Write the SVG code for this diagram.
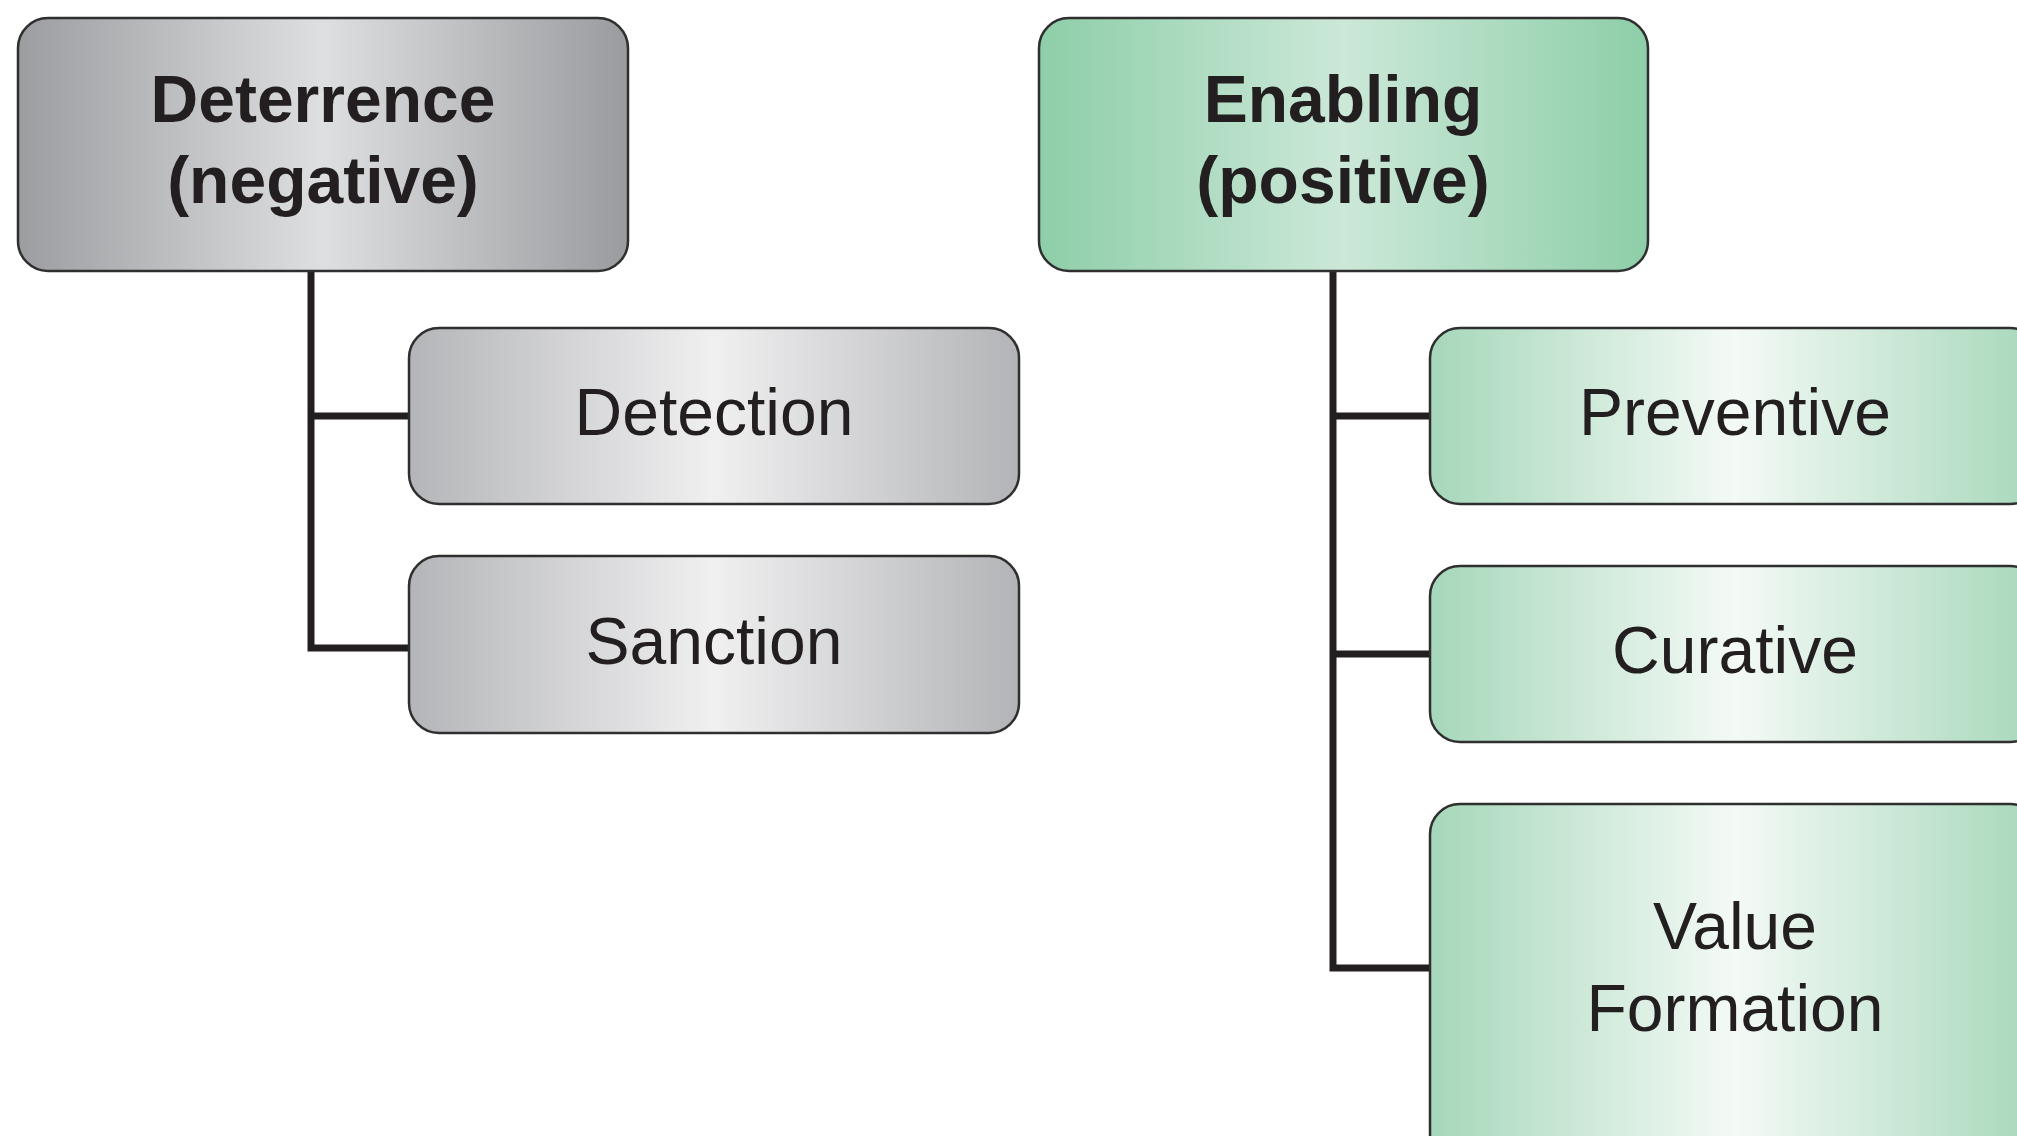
<svg xmlns="http://www.w3.org/2000/svg" width="2017" height="1136" viewBox="0 0 2017 1136">
<defs>
<linearGradient id="grayP" x1="0" y1="0" x2="1" y2="0">
<stop offset="0" stop-color="#9c9da0"/>
<stop offset="0.5" stop-color="#dedfe1"/>
<stop offset="1" stop-color="#9a9b9e"/>
</linearGradient>
<linearGradient id="grayC" x1="0" y1="0" x2="1" y2="0">
<stop offset="0" stop-color="#b4b5b8"/>
<stop offset="0.5" stop-color="#f0f0f1"/>
<stop offset="1" stop-color="#b3b4b7"/>
</linearGradient>
<linearGradient id="greenP" x1="0" y1="0" x2="1" y2="0">
<stop offset="0" stop-color="#8dcea8"/>
<stop offset="0.5" stop-color="#cce8d8"/>
<stop offset="1" stop-color="#8dcea8"/>
</linearGradient>
<linearGradient id="greenC" x1="0" y1="0" x2="1" y2="0">
<stop offset="0" stop-color="#a6d7ba"/>
<stop offset="0.5" stop-color="#f4faf6"/>
<stop offset="1" stop-color="#a6d7ba"/>
</linearGradient>
</defs>
<style>
.box{stroke:#2f2f2f;stroke-width:2.5}
.t{font-family:"Liberation Sans",Arial,sans-serif;font-size:66px;fill:#231f20;text-anchor:middle}
.b{font-weight:bold}
.conn{fill:none;stroke:#231f20;stroke-width:7;stroke-linejoin:miter;stroke-linecap:butt}
</style>
<rect width="2017" height="1136" fill="#ffffff"/>
<g id="connectors">
<path class="conn" d="M311,271 V648 H409 M311,416 H409"/>
<path class="conn" d="M1333,271 V968 H1430 M1333,416 H1430 M1333,654 H1430"/>
</g>
<g id="deterrence">
<rect class="box" x="18" y="18" width="610" height="253" rx="30" fill="url(#grayP)"/>
<text class="t b" x="323" y="122">Deterrence</text>
<text class="t b" x="323" y="203">(negative)</text>
</g>
<g id="detection">
<rect class="box" x="409" y="328" width="610" height="176" rx="30" fill="url(#grayC)"/>
<text class="t" x="714" y="435">Detection</text>
</g>
<g id="sanction">
<rect class="box" x="409" y="556" width="610" height="177" rx="30" fill="url(#grayC)"/>
<text class="t" x="714" y="664">Sanction</text>
</g>
<g id="enabling">
<rect class="box" x="1039" y="18" width="609" height="253" rx="30" fill="url(#greenP)"/>
<text class="t b" x="1343" y="122">Enabling</text>
<text class="t b" x="1343" y="203">(positive)</text>
</g>
<g id="preventive">
<rect class="box" x="1430" y="328" width="610" height="176" rx="30" fill="url(#greenC)"/>
<text class="t" x="1735" y="435">Preventive</text>
</g>
<g id="curative">
<rect class="box" x="1430" y="566" width="610" height="176" rx="30" fill="url(#greenC)"/>
<text class="t" x="1735" y="673">Curative</text>
</g>
<g id="value-formation">
<rect class="box" x="1430" y="804" width="610" height="360" rx="30" fill="url(#greenC)"/>
<text class="t" x="1735" y="949">Value</text>
<text class="t" x="1735" y="1031">Formation</text>
</g>
</svg>
